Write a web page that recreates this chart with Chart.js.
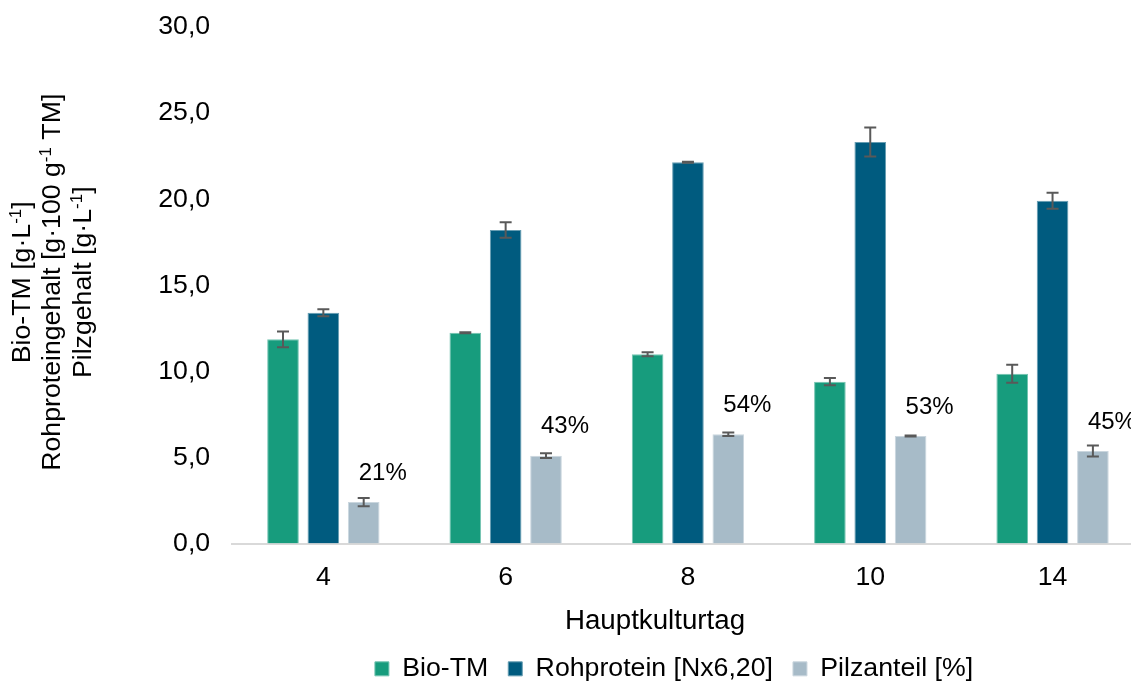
<!DOCTYPE html>
<html><head><meta charset="utf-8">
<script src="https://cdn.jsdelivr.net/npm/chart.js@4"></script>
<style>
html,body{margin:0;padding:0;overflow:hidden;background:#fff;width:1131px;height:682px;}
#wrap{position:absolute;left:0;top:0;width:1348px;height:682px;}
</style></head><body>
<div id="wrap"><canvas id="c"></canvas></div>
<script>
// ---- data ----
const categories = ['4', '6', '8', '10', '14'];
const bioTM = [11.86, 12.24, 10.99, 9.40, 9.86];
const bioTMErr = [0.46, 0.03, 0.12, 0.21, 0.52];
const rohprotein = [13.40, 18.21, 22.14, 23.32, 19.91];
const rohproteinErr = [0.20, 0.45, 0.03, 0.84, 0.46];
const pilz = [2.41, 5.10, 6.34, 6.24, 5.37];
const pilzErr = [0.24, 0.14, 0.10, 0.03, 0.32];
const pilzLabels = ['21%', '43%', '54%', '53%', '45%'];
const yTicks = [0, 5, 10, 15, 20, 25, 30];
const seriesNames = ['Bio-TM', 'Rohprotein [Nx6,20]', 'Pilzanteil [%]'];
const xTitle = 'Hauptkulturtag';
const yTitleLines = [
  [['Bio-TM [g·L', false], ['-1', true], [']', false]],
  [['Rohproteingehalt [g·100 g', false], ['-1', true], [' TM]', false]],
  [['Pilzgehalt [g·L', false], ['-1', true], [']', false]]
];

const FF = "'Liberation Sans', Arial, sans-serif";
const FS = 26.7;

const errorBars = {
  id: 'errorBars',
  afterDatasetsDraw(chart) {
    const ctx = chart.ctx, ys = chart.scales.y;
    const errs = [bioTMErr, rohproteinErr, pilzErr];
    ctx.save();
    ctx.strokeStyle = '#595959';
    ctx.lineWidth = 2;
    chart.data.datasets.forEach((ds, di) => {
      const meta = chart.getDatasetMeta(di);
      meta.data.forEach((bar, j) => {
        const v = ds.data[j], e = errs[di][j];
        const y1 = ys.getPixelForValue(v + e), y2 = ys.getPixelForValue(v - e);
        const x = bar.x;
        ctx.beginPath();
        ctx.moveTo(x, y1); ctx.lineTo(x, y2);
        ctx.moveTo(x - 6, y1); ctx.lineTo(x + 6, y1);
        ctx.moveTo(x - 6, y2); ctx.lineTo(x + 6, y2);
        ctx.stroke();
      });
    });
    // percent labels above Pilz bars
    const meta = chart.getDatasetMeta(2);
    ctx.fillStyle = '#000';
    ctx.font = '24px ' + FF;
    ctx.textAlign = 'center';
    ctx.textBaseline = 'middle';
    meta.data.forEach((bar, j) => {
      const y = ys.getPixelForValue(pilz[j]);
      ctx.fillText(pilzLabels[j], bar.x + 19, y - 29);
    });
    ctx.restore();
  }
};

const titles = {
  id: 'titles',
  afterDraw(chart) {
    const ctx = chart.ctx;
    ctx.save();
    ctx.fillStyle = '#000';
    ctx.font = '27.7px ' + FF;
    ctx.textAlign = 'center';
    ctx.textBaseline = 'middle';
    ctx.fillText(xTitle, 655, 621);
    // y title (rotated, 3 lines)
    const baseX = [29.5, 60, 90.5];
    const ca = chart.chartArea;
    const yc = (ca.top + ca.bottom) / 2 - 3;
    const supSize = 17;
    yTitleLines.forEach((segs, li) => {
      ctx.save();
      ctx.translate(baseX[li], yc);
      ctx.rotate(-Math.PI / 2);
      ctx.textAlign = 'left';
      ctx.textBaseline = 'alphabetic';
      let total = 0;
      const widths = segs.map(([t, sup]) => {
        ctx.font = (sup ? supSize : FS) + 'px ' + FF;
        const w = ctx.measureText(t).width; total += w; return w;
      });
      let x = -total / 2;
      segs.forEach(([t, sup], k) => {
        ctx.font = (sup ? supSize : FS) + 'px ' + FF;
        ctx.fillText(t, x, sup ? -9 : 0);
        x += widths[k];
      });
      ctx.restore();
    });
    ctx.restore();
  }
};

function noPad(s) { s.paddingTop = 0; s.paddingBottom = 0; s.paddingLeft = 0; s.paddingRight = 0; }

new Chart(document.getElementById('c'), {
  type: 'bar',
  data: {
    labels: categories,
    datasets: [
      { label: seriesNames[0], data: bioTM, backgroundColor: '#179C7D', borderColor: '#74C4B1', borderWidth: 1 },
      { label: seriesNames[1], data: rohprotein, backgroundColor: '#005B7F', borderColor: '#669DB2', borderWidth: 1 },
      { label: seriesNames[2], data: pilz, backgroundColor: '#A7BBC8', borderColor: '#CAD6DE', borderWidth: 1 }
    ]
  },
  options: {
    responsive: true,
    maintainAspectRatio: false,
    animation: false,
    datasets: { bar: { categoryPercentage: 0.664, barPercentage: 0.784 } },
    layout: { padding: { left: 0, right: 0, top: 27, bottom: 0 } },
    plugins: {
      legend: {
        position: 'bottom',
        maxHeight: 46.5,
        labels: { boxWidth: 14, boxHeight: 14, padding: 20, color: '#000', font: { size: FS, family: FF } }
      },
      tooltip: { enabled: false }
    },
    scales: {
      x: {
        grid: { display: false, drawTicks: false },
        border: { display: true, color: '#D9D9D9', width: 2 },
        ticks: { color: '#000', font: { size: FS, family: FF }, padding: 18 },
        afterFit(s) { s.height = 92; noPad(s); }
      },
      y: {
        min: 0, max: 30,
        afterBuildTicks(s) { s.ticks = yTicks.map(v => ({ value: v })); },
        grid: { display: false, drawTicks: false },
        border: { display: false },
        ticks: {
          color: '#000', font: { size: FS, family: FF }, padding: 22,
          callback: v => v.toFixed(1).replace('.', ',')
        },
        afterFit(s) { s.width = 232.2; noPad(s); }
      },
      yR: {
        type: 'linear', position: 'right', display: true,
        grid: { display: false, drawTicks: false }, border: { display: false },
        ticks: { display: false },
        afterFit(s) { s.width = 204.3; noPad(s); }
      }
    }
  },
  plugins: [errorBars, titles]
});
</script>
</body></html>
